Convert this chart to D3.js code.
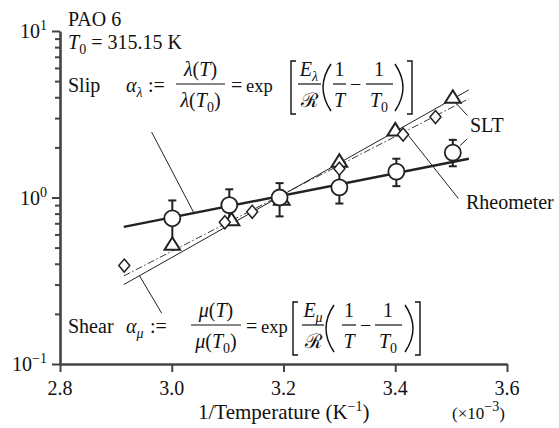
<!DOCTYPE html>
<html><head><meta charset="utf-8">
<script src="https://cdn.jsdelivr.net/npm/d3@7"></script>
<style>
html,body{margin:0;padding:0;background:#fff;}
svg{display:block;}
</style></head>
<body>
<svg id="chart" width="559" height="428"></svg>
<script>
// ---- data (x in 1/K ×10^-3, y dimensionless ratio) ----
const xTicks = [2.8, 3.0, 3.2, 3.4, 3.6];
const yMajor = [0.1, 1, 10];
const yTickLabels = [["10", "−1"], ["10", "0"], ["10", "1"]];
const yMinor = [0.2,0.3,0.4,0.5,0.6,0.7,0.8,0.9,2,3,4,5,6,7,8,9];

// SLT shear (circles with error bars)
const sltShearX  = [3.001, 3.103, 3.193, 3.300, 3.402, 3.503];
const sltShearY  = [0.75, 0.90, 1.00, 1.15, 1.43, 1.86];
const sltShearHi = [0.96, 1.12, 1.22, 1.56, 1.71, 2.22];
const sltShearLo = [0.53, 0.72, 0.77, 0.92, 1.17, 1.54];
// SLT slip (triangles)
const sltSlipX = [3.001, 3.107, 3.197, 3.300, 3.400, 3.503];
const sltSlipY = [0.52, 0.73, 0.97, 1.64, 2.53, 3.97];
// Rheometer (diamonds)
const rheoX = [2.915, 3.095, 3.144, 3.300, 3.414, 3.472];
const rheoY = [0.39, 0.71, 0.82, 1.49, 2.39, 3.04];
// Arrhenius fits (end points)
const fitX = [2.9142, 3.5317];
const sltShearFit = [0.666, 1.71];
const sltSlipFit  = [0.300, 4.43];
const rheoFit     = [0.338, 3.92];
// leader lines [x1,y1,x2,y2] in data units
const leaders = [
  [2.964, 2.47, 3.039, 0.816],
  [2.982, 0.202, 2.942, 0.340],
  [3.529, 3.11, 3.507, 3.74],
  [3.529, 2.25, 3.516, 2.05],
  [3.418, 2.49, 3.513, 0.986]
];

const FONT = "'Liberation Serif', 'Times New Roman', 'DejaVu Serif', serif";
const svg = d3.select("#chart");
const x = d3.scaleLinear([2.8, 3.6], [60, 507]);
const y = d3.scaleLog([0.1, 10], [364, 31]);
const INK = "#222", AX = "#444";

// ---- helper for rich text ----
function rich(x0, y0, parts, opts = {}) {
  const t = svg.append("text").attr("x", x0).attr("y", y0)
    .attr("font-family", FONT)
    .attr("font-size", opts.size || 20).attr("fill", "#111")
    .attr("text-anchor", opts.anchor || "start");
  let prev = 0;
  parts.forEach(p => {
    const [s, st = {}] = p;
    let shift = 0, size = null;
    if (st.sub) { shift = 5; size = 14; }
    if (st.sup) { shift = -8; size = 14; }
    const ts = t.append("tspan").text(s).attr("dy", shift - prev);
    if (size) ts.attr("font-size", size);
    if (st.i) ts.attr("font-style", "italic");
    prev = shift;
  });
  return t;
}
function frac(cx, bar, x1, x2, num, den) {
  rich(cx, bar - 8, num, {anchor: "middle"});
  rich(cx, bar + 23, den, {anchor: "middle"});
  svg.append("line").attr("x1", x1).attr("x2", x2).attr("y1", bar).attr("y2", bar)
    .attr("stroke", "#111").attr("stroke-width", 1.2);
}
function delim(kind, xa, xb, top, bot) {
  let d;
  const mid = (top + bot) / 2;
  if (kind === "[") d = `M${xb},${top}H${xa}V${bot}H${xb}`;
  if (kind === "]") d = `M${xa},${top}H${xb}V${bot}H${xa}`;
  if (kind === "(") d = `M${xb},${top}Q${2*xa - xb},${mid} ${xb},${bot}`;
  if (kind === ")") d = `M${xa},${top}Q${2*xb - xa},${mid} ${xa},${bot}`;
  svg.append("path").attr("d", d).attr("fill", "none").attr("stroke", "#111")
    .attr("stroke-width", kind === "[" || kind === "]" ? 1.4 : 1.5);
}
function eqExp(x0, y0) {
  rich(x0, y0, [["="]]);
  rich(x0 + 15, y0, [["exp"]], {size: 18.5});
}

// ---- axes ----
const gx = svg.append("g").attr("transform", "translate(0,364)")
  .call(d3.axisBottom(x).tickValues(xTicks).tickSize(8).tickSizeOuter(0).tickFormat(() => ""));
const gy = svg.append("g").attr("transform", "translate(60,0)")
  .call(d3.axisLeft(y).tickValues(yMajor).tickSize(8).tickSizeOuter(0).tickFormat(() => ""));
const gym = svg.append("g").attr("transform", "translate(60,0)")
  .call(d3.axisLeft(y).tickValues(yMinor).tickSize(5).tickSizeOuter(0).tickFormat(() => ""));
gym.select(".domain").remove();
[gx, gy, gym].forEach(g => {
  g.selectAll(".domain").attr("stroke", AX).attr("stroke-width", 2.6);
  g.selectAll(".tick line").attr("stroke", AX).attr("stroke-width", 2);
});
xTicks.forEach(v => rich(x(v), 395, [[v.toFixed(1)]], {anchor: "middle"}));
yMajor.forEach((v, i) => rich(47, y(v) + 7, [[yTickLabels[i][0]], [yTickLabels[i][1], {sup: true}]], {anchor: "end"}));
rich(198, 419, [["1/Temperature (K"], ["−1", {sup: true}], [")"]], {size: 21});
rich(452, 419, [["(×10"], ["−3", {sup: true}], [")"]], {size: 17});

// ---- fit lines ----
const line = d3.line().x(d => x(d[0])).y(d => y(d[1]));
svg.append("path").datum(fitX.map((v, i) => [v, sltSlipFit[i]])).attr("d", line)
  .attr("fill", "none").attr("stroke", INK).attr("stroke-width", 1);
svg.append("path").datum(fitX.map((v, i) => [v, rheoFit[i]])).attr("d", line)
  .attr("fill", "none").attr("stroke", INK).attr("stroke-width", 0.9)
  .attr("stroke-dasharray", "7,2.5,1.5,2.5");
svg.append("path").datum(fitX.map((v, i) => [v, sltShearFit[i]])).attr("d", line)
  .attr("fill", "none").attr("stroke", INK).attr("stroke-width", 2.4);

// ---- leaders ----
leaders.forEach(l => svg.append("line")
  .attr("x1", x(l[0])).attr("y1", y(l[1])).attr("x2", x(l[2])).attr("y2", y(l[3]))
  .attr("stroke", INK).attr("stroke-width", 1));

// ---- error bars ----
sltShearX.forEach((v, i) => {
  const g = svg.append("g").attr("stroke", INK).attr("stroke-width", 2);
  g.append("line").attr("x1", x(v)).attr("x2", x(v)).attr("y1", y(sltShearHi[i])).attr("y2", y(sltShearLo[i]));
  [sltShearHi[i], sltShearLo[i]].forEach(e => g.append("line")
    .attr("x1", x(v) - 4).attr("x2", x(v) + 4).attr("y1", y(e)).attr("y2", y(e)));
});

// ---- markers ----
svg.selectAll(".tri").data(sltSlipX).enter().append("path")
  .attr("transform", (d, i) => `translate(${x(d)},${y(sltSlipY[i])})`)
  .attr("d", "M0,-7.5L7.8,5L-7.8,5Z")
  .attr("fill", "#fff").attr("stroke", INK).attr("stroke-width", 2);
svg.selectAll(".dia").data(rheoX).enter().append("path")
  .attr("transform", (d, i) => `translate(${x(d)},${y(rheoY[i])})`)
  .attr("d", "M0,-6.5L5.5,0L0,6.5L-5.5,0Z")
  .attr("fill", "#fff").attr("stroke", INK).attr("stroke-width", 1.5);
svg.selectAll(".cir").data(sltShearX).enter().append("circle")
  .attr("cx", d => x(d)).attr("cy", (d, i) => y(sltShearY[i])).attr("r", 8)
  .attr("fill", "#fff").attr("stroke", INK).attr("stroke-width", 1.8);

// ---- labels ----
rich(470, 132, [["SLT"]]);
rich(466, 209, [["Rheometer"]]);
rich(68, 26, [["PAO 6"]]);
rich(68, 49, [["T", {i: true}], ["0", {sub: true}], [" = 315.15 K"]]);

// Slip formula
let B = 84;
rich(68, 92, [["Slip"]]);
rich(126, 92, [["α", {i: true}], ["λ", {i: true, sub: true}]]);
rich(148, 92, [[":="]]);
frac(200.5, B, 176, 225, [["λ", {i: true}], ["("], ["T", {i: true}], [")"]],
     [["λ", {i: true}], ["("], ["T", {i: true}], ["0", {sub: true}], [")"]]);
eqExp(231, 92);
delim("[", 291, 296, 61, 114);
frac(309, B, 298, 321, [["E", {i: true}], ["λ", {i: true, sub: true}]], [["ℛ"]]);
delim("(", 323, 331, 64, 111);
frac(339.5, B, 333, 346, [["1"]], [["T", {i: true}]]);
rich(350, 91, [["−"]]);
frac(379, B, 366, 393, [["1"]], [["T", {i: true}], ["0", {sub: true}]]);
delim(")", 395, 403, 64, 111);
delim("]", 407, 412, 61, 114);

// Shear formula
B = 325;
rich(68, 333, [["Shear"]]);
rich(126, 333, [["α", {i: true}], ["μ", {i: true, sub: true}]]);
rich(150, 333, [[":="]]);
frac(216, B, 191, 241, [["μ", {i: true}], ["("], ["T", {i: true}], [")"]],
     [["μ", {i: true}], ["("], ["T", {i: true}], ["0", {sub: true}], [")"]]);
eqExp(246, 333);
delim("[", 293, 298, 302, 355);
frac(313, B, 302, 324, [["E", {i: true}], ["μ", {i: true, sub: true}]], [["ℛ"]]);
delim("(", 326, 334, 305, 352);
frac(349, B, 342, 356, [["1"]], [["T", {i: true}]]);
rich(360, 332, [["−"]]);
frac(388, B, 375, 402, [["1"]], [["T", {i: true}], ["0", {sub: true}]]);
delim(")", 405, 413, 305, 352);
delim("]", 415, 420, 302, 355);
</script>
</body></html>
